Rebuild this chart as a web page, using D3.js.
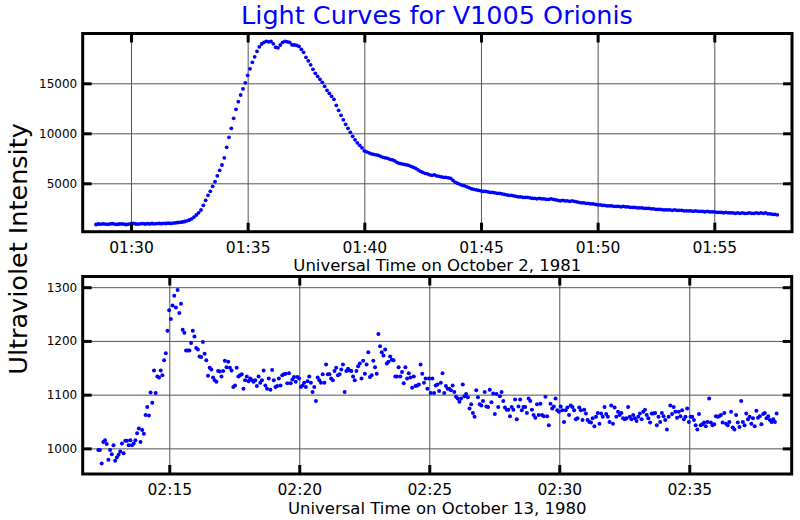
<!DOCTYPE html>
<html><head><meta charset="utf-8">
<script src="https://cdn.jsdelivr.net/npm/d3@7"></script>
<style>body{margin:0;background:#fff} svg{display:block} text{font-family:"DejaVu Sans",sans-serif}</style>
</head><body><svg id="c" width="800" height="520"></svg>
<script>
const chartTitle = "Light Curves for V1005 Orionis";
const yAxisTitle = "Ultraviolet Intensity";
const topXTitle = "Universal Time on October 2, 1981";
const bottomXTitle = "Universal Time on October 13, 1980";

// Top panel: minutes after 01:00, sampled every 6 s starting 01:28:30
const topStartMin = 88.5;
const topStepMin = 0.1;
const topValues = [
 880, 930, 910, 950, 920,
 900, 940, 960, 920, 890, 930, 950, 910, 880, 920,
 960, 990, 940, 920, 950, 970, 930, 960, 940, 980,
 950, 970, 990, 960, 1000, 980, 1010, 990, 1020, 1040,
 1080, 1100, 1130, 1180, 1250, 1330, 1450, 1620, 1830, 2050,
 2330, 2800, 3300, 3800, 4200, 4700, 5160, 5750, 6300, 6830,
 7550, 8600, 9600, 10500, 11500, 12400, 13160, 13830, 14450, 15050,
 15800, 16450, 17100, 17650, 18200, 18650, 18930, 19100, 19200, 19150,
 19180, 18950, 18600, 18550, 18830, 19100, 19200, 19150, 19100, 18850,
 18830, 18800, 18700, 18400, 18100, 17600, 17250, 16850, 16400, 16000,
 15700, 15400, 15100, 14700, 14300, 14000, 13700, 13400, 12800, 12300,
 11800, 11350, 10900, 10500, 10100, 9700, 9350, 9050, 8800, 8550,
 8250, 8150, 8050, 7950, 7900, 7850, 7800, 7700, 7600, 7550,
 7500, 7400, 7350, 7250, 7100, 7000, 6950, 6900, 6850, 6800,
 6700, 6600, 6500, 6350, 6200, 6100, 6000, 5950, 5850, 5800,
 5850, 5750, 5700, 5650, 5600, 5600, 5550, 5500, 5300, 5100,
 5000, 4900, 4800, 4750, 4650, 4550, 4450, 4400, 4350, 4300,
 4250, 4200, 4200, 4150, 4100, 4100, 4050, 4000, 4000, 3950,
 3900, 3850, 3800, 3800, 3750, 3700, 3650, 3650, 3600, 3600,
 3600, 3550, 3500, 3500, 3450, 3500, 3450, 3450, 3400, 3400,
 3450, 3400, 3350, 3300, 3250, 3300, 3250, 3250, 3200, 3250,
 3200, 3150, 3100, 3050, 3050, 3000, 3000, 2950, 2950, 2900,
 2850, 2850, 2800, 2800, 2750, 2750, 2750, 2700, 2700, 2700,
 2650, 2700, 2650, 2650, 2600, 2600, 2600, 2550, 2550, 2550,
 2500, 2500, 2500, 2450, 2450, 2400, 2400, 2400, 2350, 2350,
 2350, 2350, 2300, 2350, 2300, 2300, 2300, 2250, 2250, 2250,
 2250, 2200, 2250, 2200, 2200, 2200, 2150, 2200, 2150, 2150,
 2150, 2100, 2100, 2100, 2050, 2100, 2050, 2050, 2050, 2000,
 2050, 2000, 2050, 2000, 2000, 2050, 2000, 2000, 2050, 2000,
 2050, 2000, 2050, 1950, 1950, 1900, 1900, 1850
];

// Bottom panel: minutes after 02:00, sampled about every 3.9 s starting 02:12:16
const bottomStartMin = 12.27;
const bottomStepMin = 0.0649;
const bottomValues = [
 997, 997, 972, 1012, 1015, 1008, 979, 997, 989, 1006,
 977, 983, 988, 994, 1009, 991, 1014, 1014, 1006, 1015,
 1006, 1009, 1015, 1028, 1037, 1012, 1034, 1027, 1062, 1077,
 1061, 1104, 1085, 1145, 1103, 1134, 1132, 1145, 1136, 1164,
 1177, 1219, 1257, 1241, 1266, 1284, 1262, 1295, 1252, 1269,
 1221, 1215, 1182, 1182, 1182, 1196, 1219, 1208, 1187, 1184,
 1171, 1170, 1198, 1176, 1164, 1135, 1150, 1147, 1132, 1127,
 1124, 1144, 1143, 1134, 1144, 1163, 1151, 1161, 1150, 1145,
 1114, 1117, 1150, 1134, 1136, 1138, 1111, 1127, 1134, 1125,
 1130, 1127, 1124, 1127, 1116, 1134, 1122, 1127, 1145, 1117,
 1111, 1130, 1109, 1146, 1127, 1114, 1116, 1130, 1117, 1136,
 1138, 1139, 1121, 1140, 1121, 1128, 1133, 1124,
 1133, 1130, 1114, 1117, 1122, 1114, 1125, 1134, 1122, 1105,
 1114, 1088, 1132, 1127, 1122, 1138, 1122, 1156, 1138, 1138,
 1130, 1127, 1144, 1150, 1136, 1138, 1147, 1156, 1105, 1144,
 1148, 1145, 1144, 1134, 1127, 1144, 1153, 1158, 1130, 1163,
 1139, 1156, 1179, 1133, 1136, 1163, 1151, 1139, 1213, 1190,
 1179, 1173, 1184, 1158, 1161, 1171, 1165, 1164, 1134, 1134,
 1151, 1134, 1142, 1121, 1151, 1130, 1140, 1132, 1113, 1134,
 1116, 1117, 1119, 1156, 1139, 1122, 1130, 1111, 1130, 1103,
 1130, 1103, 1117, 1119, 1107, 1122, 1140, 1103, 1116, 1111,
 1111, 1108, 1117, 1105, 1096, 1093, 1087, 1093, 1119, 1097,
 1101, 1095, 1074, 1082, 1066, 1059, 1108, 1095, 1082, 1080,
 1088, 1105, 1078, 1077, 1109, 1086, 1102, 1064, 1101, 1077,
 1097, 1105, 1088, 1076, 1072, 1072, 1060, 1077, 1072, 1091,
 1054, 1078, 1091, 1071, 1077, 1077, 1066, 1093, 1088, 1072,
 1062, 1057, 1082, 1062, 1083, 1062, 1060, 1096,
 1060, 1043, 1083, 1074, 1078, 1093, 1071, 1068, 1078, 1071, 1049,
 1071, 1076, 1062, 1080, 1077, 1071, 1054, 1056, 1076, 1071,
 1053, 1072, 1065, 1053, 1049, 1048, 1056, 1041, 1059, 1066,
 1046, 1065, 1059, 1077, 1064, 1059, 1049, 1080, 1046, 1076,
 1059, 1068, 1062, 1066, 1056, 1054, 1056, 1077, 1059, 1054,
 1062, 1056, 1051, 1059, 1065, 1054, 1068, 1072, 1062, 1056,
 1048, 1065, 1065, 1066, 1043, 1059, 1049, 1066, 1060, 1053,
 1035, 1059, 1080, 1064, 1077, 1068, 1057, 1068, 1060, 1071,
 1054, 1059, 1074, 1049, 1059, 1059, 1053, 1043, 1035, 1064,
 1043, 1045, 1048, 1041, 1049, 1093, 1048, 1043, 1045, 1060,
 1059, 1060, 1062, 1048, 1066, 1046, 1043, 1049, 1068, 1039,
 1035, 1062, 1048, 1040, 1088, 1049, 1043, 1065, 1054, 1059,
 1046, 1056, 1041, 1070, 1057, 1060, 1045, 1064, 1066, 1056,
 1060, 1053, 1049, 1054, 1049, 1065
];

const topXTicks = [90, 95, 100, 105, 110, 115];
const topXTickLabels = ["01:30", "01:35", "01:40", "01:45", "01:50", "01:55"];
const topYTicks = [5000, 10000, 15000];
const bottomXTicks = [15, 20, 25, 30, 35];
const bottomXTickLabels = ["02:15", "02:20", "02:25", "02:30", "02:35"];
const bottomYTicks = [1000, 1100, 1200, 1300];

const svg = d3.select("#c");
const W = 800, H = 520;
svg.append("rect").attr("width", W).attr("height", H).attr("fill", "#fff");

function panel(cfg) {
  const {left, right, top, bottom} = cfg.box;
  const x = d3.scaleLinear().domain(cfg.xDomain).range([left, right]);
  const y = d3.scaleLinear().domain(cfg.yDomain).range([bottom, top]);
  const g = svg.append("g");
  const h = bottom - top, w = right - left;

  // grid
  const grid = g.append("g").attr("class", "grid");
  grid.append("g").attr("transform", `translate(0,${bottom})`)
    .call(d3.axisBottom(x).tickValues(cfg.xTicks).tickSize(-h).tickFormat(""))
    .call(s => s.select(".domain").remove());
  grid.append("g").attr("transform", `translate(${left},0)`)
    .call(d3.axisLeft(y).tickValues(cfg.yTicks).tickSize(-w).tickFormat(""))
    .call(s => s.select(".domain").remove());
  grid.selectAll("line").attr("stroke", "#555").attr("stroke-width", 1);

  // data
  const pts = cfg.values.map((v, i) => ({t: cfg.start + i * cfg.step, v}));
  g.append("g").selectAll("circle").data(pts).join("circle")
    .attr("cx", d => x(d.t)).attr("cy", d => y(d.v))
    .attr("r", cfg.r).attr("fill", "#0000ff");

  // frame
  g.append("rect").attr("x", left).attr("y", top).attr("width", w).attr("height", h)
    .attr("fill", "none").attr("stroke", "#000").attr("stroke-width", 3);

  const tl = 9;
  const ax = [];
  ax.push(g.append("g").attr("transform", `translate(0,${bottom})`)
    .call(d3.axisBottom(x).tickValues(cfg.xTicks).tickSize(-tl).tickPadding(10)
      .tickFormat((d, i) => cfg.xLabels[i])));
  ax[0].selectAll("text").attr("font-size", 15.5).attr("fill", "#000");
  ax.push(g.append("g").attr("transform", `translate(0,${top})`)
    .call(d3.axisTop(x).tickValues(cfg.xTicks).tickSize(-tl).tickFormat("")));
  ax.push(g.append("g").attr("transform", `translate(${left},0)`)
    .call(d3.axisLeft(y).tickValues(cfg.yTicks).tickSize(-tl).tickPadding(5.5)
      .tickFormat(d3.format("d"))));
  ax[2].selectAll("text").attr("font-size", 12).attr("fill", "#000");
  ax.push(g.append("g").attr("transform", `translate(${right},0)`)
    .call(d3.axisRight(y).tickValues(cfg.yTicks).tickSize(-tl).tickFormat("")));
  ax.forEach(a => {
    a.select(".domain").remove();
    a.selectAll("line").attr("stroke", "#000").attr("stroke-width", 3);
    a.attr("font-family", null);
  });

  svg.append("text").attr("x", (left + right) / 2).attr("y", bottom + 39.5)
    .attr("text-anchor", "middle").attr("font-size", 16.5).attr("fill", "#000")
    .text(cfg.xTitle);
}

panel({
  box: {left: 82.7, right: 792, top: 33.5, bottom: 231.7},
  xDomain: [87.93, 118.33], yDomain: [160, 19980],
  xTicks: topXTicks, xLabels: topXTickLabels, yTicks: topYTicks,
  values: topValues, start: topStartMin, step: topStepMin, r: 1.9,
  xTitle: topXTitle
});
panel({
  box: {left: 82.7, right: 791.7, top: 276.5, bottom: 474},
  xDomain: [11.67, 38.94], yDomain: [952.3, 1319.9],
  xTicks: bottomXTicks, xLabels: bottomXTickLabels, yTicks: bottomYTicks,
  values: bottomValues, start: bottomStartMin, step: bottomStepMin, r: 2,
  xTitle: bottomXTitle
});

svg.append("text").attr("x", 437).attr("y", 24).attr("text-anchor", "middle")
  .attr("font-size", 25.5).attr("fill", "#0000ff").text(chartTitle);
svg.append("text").attr("transform", "translate(27,249) rotate(-90)")
  .attr("text-anchor", "middle").attr("font-size", 25.5).attr("fill", "#000")
  .text(yAxisTitle);
</script></body></html>
